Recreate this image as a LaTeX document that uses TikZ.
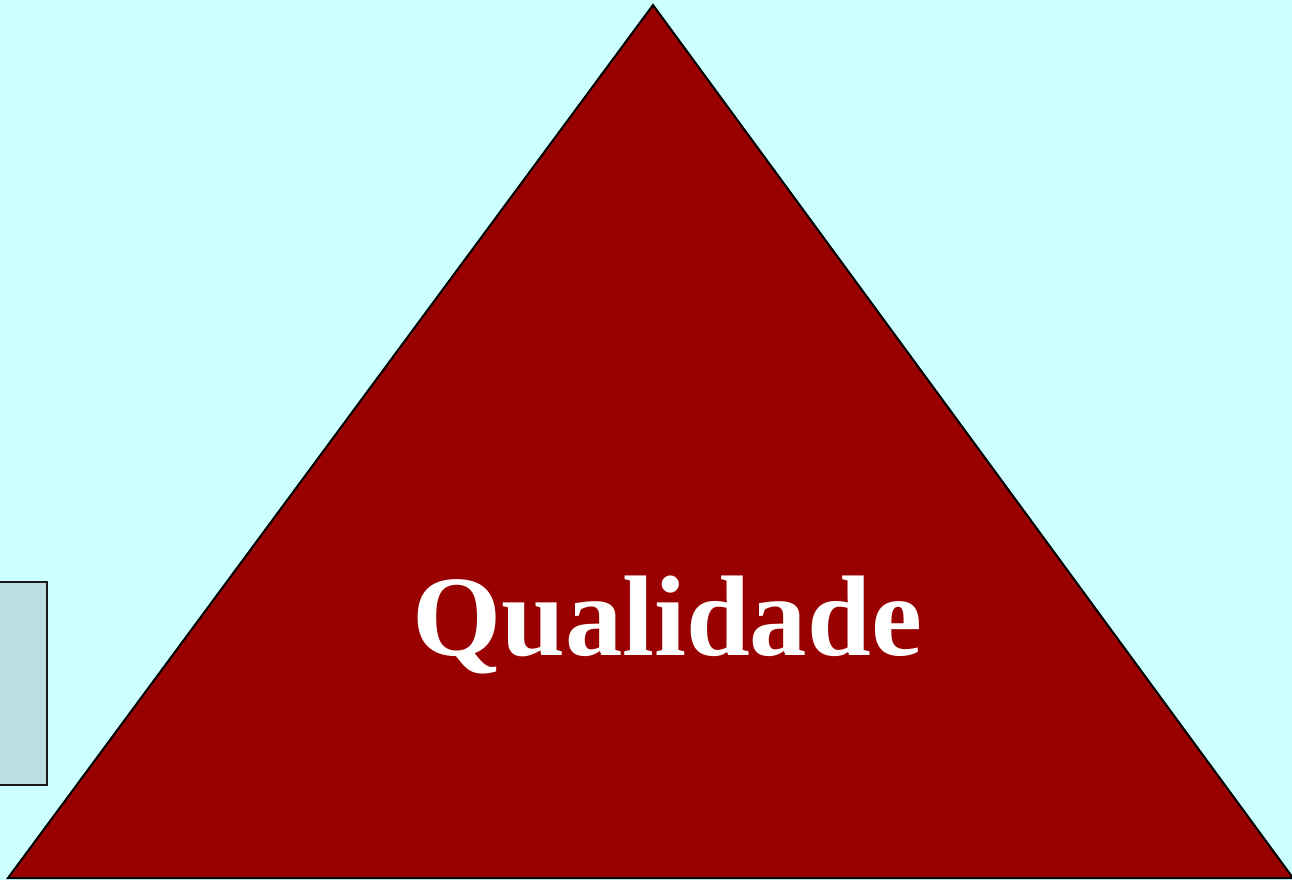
\documentclass[tikz,border=0pt]{standalone}
\usepackage{fontspec}
\setmainfont{Liberation Serif}
\usepackage{xcolor}
\usepackage{tikz}
\usetikzlibrary{positioning}
\definecolor{skybg}{HTML}{CCFFFF}
\definecolor{darkred}{HTML}{990000}
\definecolor{paleteal}{HTML}{BBE0E3}
\tikzset{
  tri/.style={draw=black, fill=darkred, line width=1.5pt, line join=miter},
  sidebox/.style={draw=black!90, fill=paleteal, line width=1.5pt},
  label/.style={text=white, font=\fontsize{86}{90}\selectfont\bfseries, inner sep=0pt, anchor=base},
}

\begin{document}
\begin{tikzpicture}[x=0.75pt, y=-0.75pt]
\fill[skybg] (0,0) rectangle (1292,880);
\useasboundingbox (0,0) rectangle (1292,880);
\clip (0,0) rectangle (1292,880);
\coordinate (top) at (653,5);
\coordinate (bl) at (8,878);
\coordinate (br) at (1293,878);
\draw[sidebox] (-20,582) rectangle (47,785);
\draw[tri] (top) -- (br) -- (bl) -- cycle;
\node[label] (q) at (667,655) {Qualidade};
\end{tikzpicture}
\end{document}
